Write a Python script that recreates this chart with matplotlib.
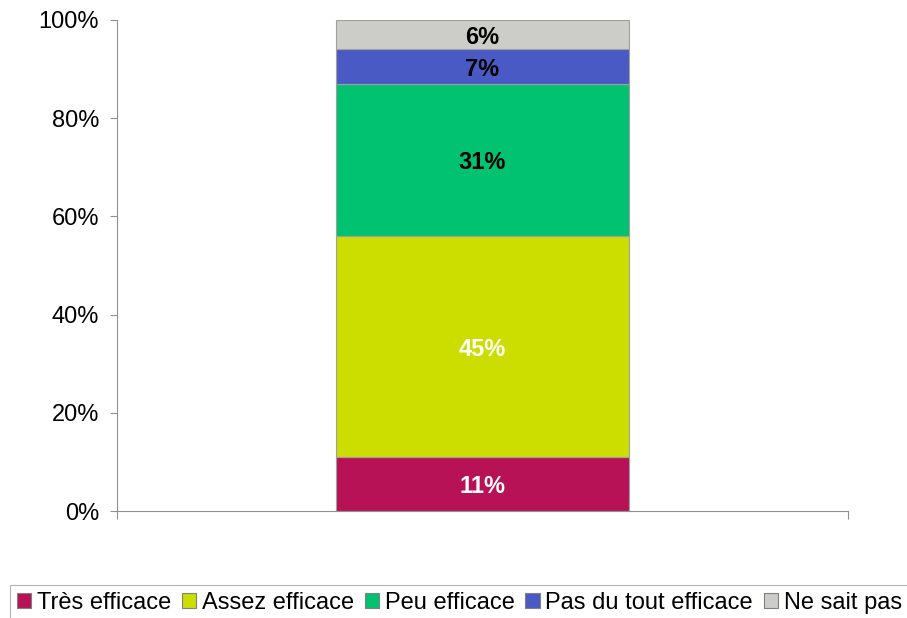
import matplotlib
matplotlib.use("Agg")
import matplotlib.pyplot as plt
from matplotlib.patches import Patch

plt.rcParams['font.family'] = ['Liberation Sans', 'DejaVu Sans']

categories = ["Très efficace", "Assez efficace", "Peu efficace", "Pas du tout efficace", "Ne sait pas"]
values = [11, 45, 31, 7, 6]
colors = ["#B81257", "#CCDD00", "#00C270", "#4A5AC4", "#CCCCC8"]
label_colors = ["white", "white", "black", "black", "black"]
yticks = [0, 20, 40, 60, 80, 100]

fig = plt.figure(figsize=(9.07, 6.18), dpi=100)
ax = fig.add_axes([117 / 907, 107 / 618, 731 / 907, 491 / 618])

bottom = 0
for v, c, lc in zip(values, colors, label_colors):
    ax.bar(0, v, width=0.4, bottom=bottom, color=c, edgecolor="#A0A0A0", linewidth=0.8)
    ax.text(0, bottom + v / 2, f"{v}%", ha="center", va="center_baseline",
            fontsize=17, fontweight="bold", color=lc)
    bottom += v

ax.set_xlim(-0.5, 0.5)
ax.set_ylim(0, 100)
ax.set_yticks(yticks)
ax.set_yticklabels([f"{t}%" for t in yticks], fontsize=17)
ax.set_xticks([-0.5, 0.5])
ax.set_xticklabels([])
ax.tick_params(axis="y", length=5, color="#909090", pad=8)
ax.tick_params(axis="x", length=6, color="#909090", direction="out")
for s in ["top", "right"]:
    ax.spines[s].set_visible(False)
for s in ["left", "bottom"]:
    ax.spines[s].set_color("#909090")
    ax.spines[s].set_linewidth(0.8)

handles = [Patch(facecolor=c, edgecolor="#808080", linewidth=0.8) for c in colors]
leg = fig.legend(handles, categories, loc="upper left", bbox_to_anchor=(10 / 907, 1 - 585 / 618),
                 ncol=5, fontsize=17, frameon=True, fancybox=False,
                 handlelength=0.6, handleheight=0.6, handletextpad=0.25,
                 columnspacing=0.45, borderpad=0.3, borderaxespad=0.0)
leg.get_frame().set_edgecolor("#A0A0A0")
leg.get_frame().set_linewidth(0.8)

fig.savefig("out.png", dpi=100)
